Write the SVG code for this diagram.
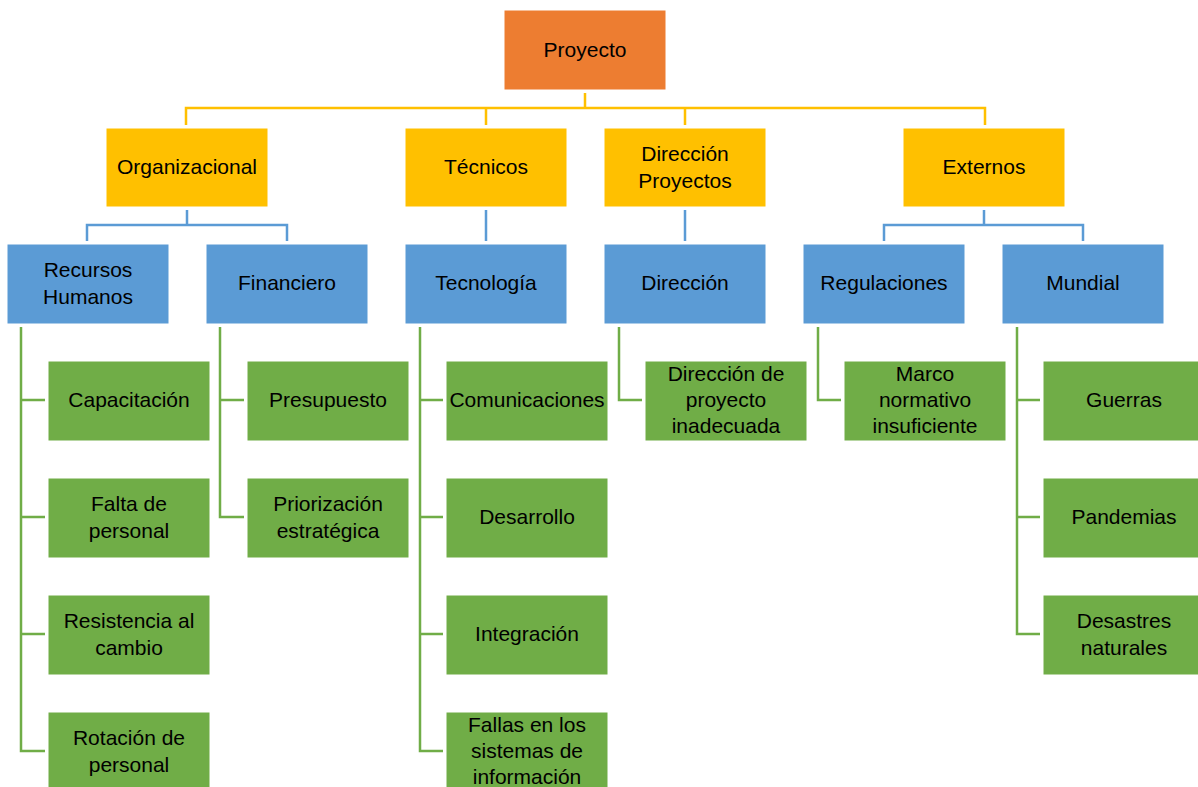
<svg xmlns="http://www.w3.org/2000/svg" width="1198" height="787" viewBox="0 0 1198 787">
  <style>
    text { font-family: "Liberation Sans", Arial, sans-serif; font-size: 21px; fill: #000; text-anchor: middle; }
    .root { fill: #ED7D31; }
    .cat { fill: #FFC000; }
    .sub { fill: #5B9BD5; }
    .leaf { fill: #70AD47; }
    .box { stroke: #fff; stroke-width: 1; }
    .ly { fill: none; stroke: #FFC000; stroke-width: 2.5; }
    .lb { fill: none; stroke: #5B9BD5; stroke-width: 2.5; }
    .lg { fill: none; stroke: #70AD47; stroke-width: 2.5; }
  </style>
  <rect width="1198" height="787" fill="#fff"/>

  <g id="connectors">
    <!-- root to categories -->
    <path class="ly" d="M585 93 V108 M186 125 V108 H985 V125 M486 108 V125 M685 108 V125"/>
    <!-- categories to subcategories -->
    <path class="lb" d="M187 210 V225 M87 241 V225 H287 V241"/>
    <path class="lb" d="M486 210 V241"/>
    <path class="lb" d="M685 210 V241"/>
    <path class="lb" d="M984 210 V225 M884 241 V225 H1083 V241"/>
    <!-- subcategories to leaves -->
    <path class="lg" d="M21 327 V751 H45 M21 400 H45 M21 517 H45 M21 634 H45"/>
    <path class="lg" d="M220 327 V517 H244 M220 400 H244"/>
    <path class="lg" d="M420 327 V751 H443 M420 400 H443 M420 517 H443 M420 634 H443"/>
    <path class="lg" d="M619 327 V400 H642"/>
    <path class="lg" d="M818 327 V400 H841"/>
    <path class="lg" d="M1017 327 V634 H1040 M1017 400 H1040 M1017 517 H1040"/>
  </g>

  <g id="proyecto"><rect class="root box" x="504" y="10" width="162" height="80"/><text x="585" y="57">Proyecto</text></g>

  <g id="organizacional"><rect class="cat box" x="106" y="128" width="162" height="79"/><text x="187" y="174">Organizacional</text></g>
  <g id="tecnicos"><rect class="cat box" x="405" y="128" width="162" height="79"/><text x="486" y="174">Técnicos</text></g>
  <g id="direccion-proyectos"><rect class="cat box" x="604" y="128" width="162" height="79"/><text x="685" y="161">Dirección</text><text x="685" y="188">Proyectos</text></g>
  <g id="externos"><rect class="cat box" x="903" y="128" width="162" height="79"/><text x="984" y="174">Externos</text></g>

  <g id="recursos-humanos"><rect class="sub box" x="7" y="244" width="162" height="80"/><text x="88" y="277">Recursos</text><text x="88" y="304">Humanos</text></g>
  <g id="financiero"><rect class="sub box" x="206" y="244" width="162" height="80"/><text x="287" y="290">Financiero</text></g>
  <g id="tecnologia"><rect class="sub box" x="405" y="244" width="162" height="80"/><text x="486" y="290">Tecnología</text></g>
  <g id="direccion"><rect class="sub box" x="604" y="244" width="162" height="80"/><text x="685" y="290">Dirección</text></g>
  <g id="regulaciones"><rect class="sub box" x="803" y="244" width="162" height="80"/><text x="884" y="290">Regulaciones</text></g>
  <g id="mundial"><rect class="sub box" x="1002" y="244" width="162" height="80"/><text x="1083" y="290">Mundial</text></g>

  <g id="capacitacion"><rect class="leaf box" x="48" y="361" width="162" height="80"/><text x="129" y="407">Capacitación</text></g>
  <g id="falta-personal"><rect class="leaf box" x="48" y="478" width="162" height="80"/><text x="129" y="511">Falta de</text><text x="129" y="538">personal</text></g>
  <g id="resistencia"><rect class="leaf box" x="48" y="595" width="162" height="80"/><text x="129" y="628">Resistencia al</text><text x="129" y="655">cambio</text></g>
  <g id="rotacion"><rect class="leaf box" x="48" y="712" width="162" height="80"/><text x="129" y="745">Rotación de</text><text x="129" y="772">personal</text></g>

  <g id="presupuesto"><rect class="leaf box" x="247" y="361" width="162" height="80"/><text x="328" y="407">Presupuesto</text></g>
  <g id="priorizacion"><rect class="leaf box" x="247" y="478" width="162" height="80"/><text x="328" y="511">Priorización</text><text x="328" y="538">estratégica</text></g>

  <g id="comunicaciones"><rect class="leaf box" x="446" y="361" width="162" height="80"/><text x="527" y="407">Comunicaciones</text></g>
  <g id="desarrollo"><rect class="leaf box" x="446" y="478" width="162" height="80"/><text x="527" y="524">Desarrollo</text></g>
  <g id="integracion"><rect class="leaf box" x="446" y="595" width="162" height="80"/><text x="527" y="641">Integración</text></g>
  <g id="fallas"><rect class="leaf box" x="446" y="712" width="162" height="80"/><text x="527" y="732">Fallas en los</text><text x="527" y="758">sistemas de</text><text x="527" y="784">información</text></g>

  <g id="direccion-inadecuada"><rect class="leaf box" x="645" y="361" width="162" height="80"/><text x="726" y="381">Dirección de</text><text x="726" y="407">proyecto</text><text x="726" y="433">inadecuada</text></g>

  <g id="marco-normativo"><rect class="leaf box" x="844" y="361" width="162" height="80"/><text x="925" y="381">Marco</text><text x="925" y="407">normativo</text><text x="925" y="433">insuficiente</text></g>

  <g id="guerras"><rect class="leaf box" x="1043" y="361" width="162" height="80"/><text x="1124" y="407">Guerras</text></g>
  <g id="pandemias"><rect class="leaf box" x="1043" y="478" width="162" height="80"/><text x="1124" y="524">Pandemias</text></g>
  <g id="desastres"><rect class="leaf box" x="1043" y="595" width="162" height="80"/><text x="1124" y="628">Desastres</text><text x="1124" y="655">naturales</text></g>
</svg>
